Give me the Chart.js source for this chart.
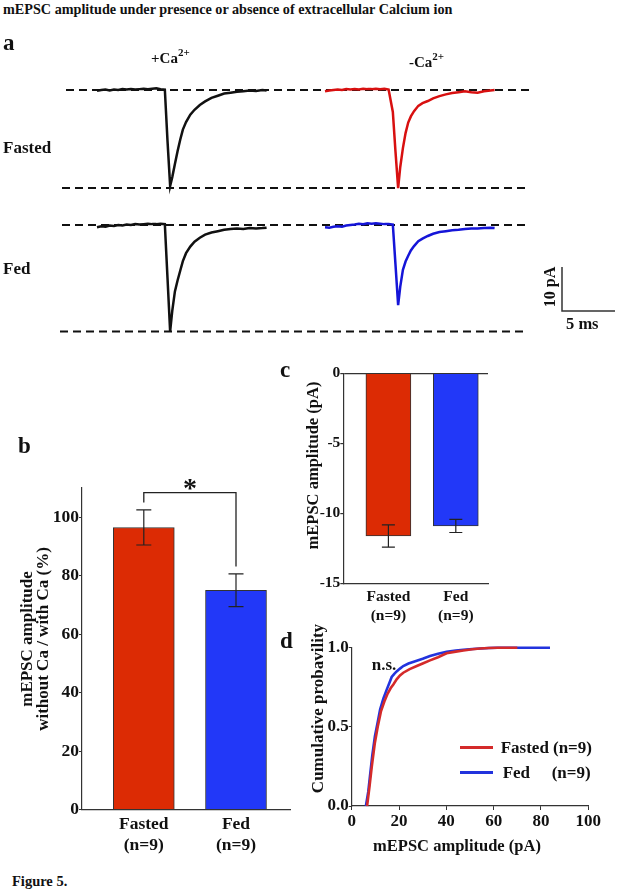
<!DOCTYPE html>
<html>
<head>
<meta charset="utf-8">
<script src="https://cdn.jsdelivr.net/npm/chart.js@4.4.0/dist/chart.umd.min.js"></script>
<style>
  body { margin: 0; background: #fff; }
  #fig { position: relative; width: 617px; height: 892px; overflow: hidden;
         font-family: "Liberation Serif", "Times New Roman", serif; font-weight: bold; color: #111; }
  #fig canvas { position: absolute; }
  .t { position: absolute; white-space: nowrap; line-height: 1; }
  .rot { position: absolute; white-space: nowrap; text-align: center; transform: rotate(-90deg); }
  .sup { position: relative; top: -7px; font-size: 11px; }
  .leg { position: absolute; width: 33px; height: 3px; }
</style>
</head>
<body>
<div id="fig">
  <canvas id="tracos" width="617" height="300" style="left:0;top:50px"></canvas>
  <canvas id="razao" width="300" height="392" style="left:0;top:470px"></canvas>
  <canvas id="amplitude" width="215" height="275" style="left:280px;top:355px"></canvas>
  <canvas id="cumulativa" width="337" height="232" style="left:280px;top:632px"></canvas>

  <div class="t" style="left:3px;top:2px;font-size:14.2px">mEPSC amplitude under presence or absence of extracellular Calcium ion</div>
  <div class="t" style="left:3px;top:31px;font-size:23px">a</div>
  <div class="t" style="left:151px;top:50.5px;font-size:15px">+Ca<span class="sup">2+</span></div>
  <div class="t" style="left:409px;top:55px;font-size:15px">-Ca<span class="sup">2+</span></div>
  <div class="t" style="left:3px;top:138.5px;font-size:17px">Fasted</div>
  <div class="t" style="left:3px;top:259.5px;font-size:17px">Fed</div>
  <div class="rot" style="left:520px;top:279px;width:60px;height:16px;line-height:16px;font-size:16px">10 pA</div>
  <div class="t" style="left:566px;top:316px;font-size:16.5px">5 ms</div>

  <div class="t" style="left:18px;top:434px;font-size:23px">b</div>
  <div class="rot" style="left:-75px;top:623px;width:220px;height:32px;line-height:16px;font-size:17px">mEPSC amplitude<br>without Ca / with Ca (%)</div>

  <div class="t" style="left:280px;top:357.5px;font-size:23px">c</div>
  <div class="rot" style="left:211.7px;top:456.5px;width:200px;height:17px;line-height:17px;font-size:16.5px">mEPSC amplitude (pA)</div>

  <div class="t" style="left:280px;top:629px;font-size:23px">d</div>
  <div class="t" style="left:371.7px;top:655.8px;font-size:17px">n.s.</div>
  <div class="rot" style="left:206.7px;top:699.5px;width:220px;height:17px;line-height:17px;font-size:17px">Cumulative probavility</div>
  <div class="t" style="left:357px;top:838px;width:200px;text-align:center;font-size:16.5px">mEPSC amplitude (pA)</div>
  <div class="leg" style="left:460px;top:745.5px;background:#d42a2a"></div>
  <div class="t" style="left:500.7px;top:738.8px;font-size:17px">Fasted</div>
  <div class="t" style="left:553px;top:738.8px;font-size:17px">(n=9)</div>
  <div class="leg" style="left:460px;top:770.5px;background:#2233dd"></div>
  <div class="t" style="left:502.7px;top:763.8px;font-size:17px">Fed</div>
  <div class="t" style="left:551.7px;top:763.8px;font-size:17px">(n=9)</div>

  <div class="t" style="left:12px;top:874px;font-size:14.5px">Figure 5.</div>
</div>

<script>
// ---- panel a: mean mEPSC traces (time in ms, current in pA) ----
const traceTime = [0, 0.4, 0.8, 1.2, 1.6, 2.0, 2.4, 2.8, 3.2, 3.6, 4.0, 4.4, 4.8, 5.2, 5.6, 6.0, 6.4,
  6.65, 6.9, 7.1, 7.35, 7.6, 7.85, 8.1, 8.4, 8.8, 9.2, 9.7, 10.2, 10.8, 11.4, 12.0, 12.6, 13.2, 13.8,
  14.4, 15.0, 15.6, 16.0];
const fastedWithCa = [-0.2, 0.0, 0.1, -0.1, 0.1, 0.0, 0.2, 0.1, 0.2, 0.1, 0.2, 0.3, 0.2, 0.3, 0.4, 0.2, 0.1,
  -11.5, -21.8, -19.8, -16.8, -13.9, -11.3, -9.0, -7.3, -5.6, -4.5, -3.4, -2.6, -1.8, -1.3, -0.8, -0.6,
  -0.4, -0.3, -0.1, -0.2, 0.0, -0.1];
const fastedNoCa = [-0.3, -0.1, 0.0, 0.1, 0.0, 0.2, 0.1, 0.2, 0.1, 0.3, 0.2, 0.2, 0.3, 0.2, 0.3, 0.1, -5.0,
  -14.0, -22.3, -17.5, -13.2, -9.8, -7.4, -6.0, -4.8, -3.6, -3.0, -2.5, -1.9, -1.4, -1.0, -0.7, -0.5,
  -0.3, -0.5, -0.6, -0.3, -0.1, 0.0];
const fedWithCa = [-0.5, -0.3, -0.4, -0.1, -0.2, 0.0, -0.1, 0.1, 0.0, 0.2, 0.1, 0.2, 0.3, 0.2, 0.2, 0.3, 0.2,
  -12.0, -24.2, -19.5, -15.1, -12.6, -10.4, -8.2, -6.4, -4.9, -3.8, -2.9, -2.2, -1.7, -1.4, -1.1, -0.9,
  -0.8, -0.9, -0.7, -0.8, -0.7, -0.6];
const fedNoCa = [-0.5, -0.6, -0.4, -0.3, -0.4, -0.1, 0.0, 0.1, 0.3, 0.2, 0.4, 0.3, 0.4, 0.3, 0.2, 0.2, 0.1,
  -9.0, -18.2, -14.0, -10.2, -8.3, -7.0, -5.8, -4.8, -3.7, -3.1, -2.5, -2.0, -1.6, -1.4, -1.2, -1.1,
  -0.9, -0.8, -0.8, -0.7, -0.6, -0.7];
const scaleBarPa = 10;
const scaleBarMs = 5;

// ---- panels b and c: group means ----
const groupNames = ['Fasted', 'Fed'];
const groupN = ['(n=9)', '(n=9)'];
const ratioMean = [96.5, 75.0];   // % without Ca / with Ca
const ratioSem = [6.0, 5.6];
const ratioTicks = [0, 20, 40, 60, 80, 100];
const ampMean = [-11.62, -10.9];  // pA
const ampSem = [0.8, 0.47];
const ampTicks = [0, -5, -10, -15];

// ---- panel d: cumulative distributions ----
const fastedAmp = [6.5, 7.5, 8.5, 9.8, 11, 12.4, 13.8, 15.2, 16.5, 17.6, 19, 20.4, 21.8, 24.5, 27.5, 30,
  33.1, 36.5, 40.1, 44, 47.2, 51, 54.3, 58, 62, 70];
const fastedCum = [0, 0.12, 0.25, 0.4, 0.5, 0.6, 0.66, 0.71, 0.745, 0.768, 0.8, 0.825, 0.842, 0.865, 0.884,
  0.9, 0.92, 0.94, 0.965, 0.975, 0.982, 0.99, 0.995, 0.998, 1.0, 1.0];
const fedAmp = [6.0, 7.0, 7.7, 8.7, 9.8, 11, 12, 13.4, 14.8, 16, 16.9, 18, 19, 20.4, 21.8, 24, 27.5, 30,
  33.1, 36.5, 40.1, 44, 47.2, 51, 54.3, 58, 61.3, 70, 83.8];
const fedCum = [0, 0.09, 0.185, 0.32, 0.44, 0.53, 0.61, 0.68, 0.735, 0.78, 0.815, 0.835, 0.85, 0.868, 0.884,
  0.9, 0.918, 0.93, 0.947, 0.962, 0.975, 0.982, 0.987, 0.992, 0.995, 0.998, 1.0, 1.0, 1.0];
const cumTicksX = [0, 20, 40, 60, 80, 100];

const RED = '#dc2b04';
const BLUE = '#2238f8';
const RED_LINE = '#d42a2a';
const BLUE_LINE = '#2233dd';

Chart.defaults.font.family = '"Liberation Serif", "Times New Roman", serif';
Chart.defaults.font.weight = 'bold';
Chart.defaults.color = '#111';
Chart.defaults.animation = false;

const pontos = (xs, ys) => xs.map((x, i) => ({ x: x, y: ys[i] }));

// ---------------- panel a ----------------
const PX_MS = 10.6, PX_PA = 4.4;       // drawing scale of the traces
const tracoLinha = (valores, cor, xId, yId) => ({
  data: pontos(traceTime, valores), borderColor: cor, borderWidth: 2.5,
  pointRadius: 0, tension: 0, xAxisID: xId, yAxisID: yId,
});
const pico1 = Math.min(...fastedWithCa, ...fastedNoCa);
const pico2 = Math.min(...fedWithCa, ...fedNoCa);

const guias = {
  id: 'guias',
  beforeDatasetsDraw(chart) {
    const { ctx, scales } = chart;
    const linhas = [
      { y: scales.y1.getPixelForValue(0), de: 66, ate: 533 },
      { y: scales.y1.getPixelForValue(pico1), de: 62, ate: 530 },
      { y: scales.y2.getPixelForValue(0), de: 62, ate: 530 },
      { y: scales.y2.getPixelForValue(pico2), de: 60, ate: 527 },
    ];
    ctx.save();
    ctx.strokeStyle = '#111';
    ctx.lineWidth = 2;
    ctx.setLineDash([8, 5]);
    linhas.forEach((l) => {
      ctx.beginPath();
      ctx.moveTo(l.de, l.y);
      ctx.lineTo(l.ate, l.y);
      ctx.stroke();
    });
    // scale bar
    const hY = scales.y2.getPixelForValue(0) - scales.y2.getPixelForValue(scaleBarPa);
    const wX = scales.x2.getPixelForValue(scaleBarMs) - scales.x2.getPixelForValue(0);
    const cx = 562, cy = 261;
    ctx.setLineDash([]);
    ctx.strokeStyle = '#333';
    ctx.lineWidth = 1.5;
    ctx.beginPath();
    ctx.moveTo(cx, cy - hY);
    ctx.lineTo(cx, cy);
    ctx.lineTo(cx + wX, cy);
    ctx.stroke();
    ctx.restore();
  },
};

new Chart(document.getElementById('tracos'), {
  type: 'line',
  data: {
    datasets: [
      tracoLinha(fastedWithCa, '#111', 'x1', 'y1'),
      tracoLinha(fastedNoCa, '#d81010', 'x2', 'y1'),
      tracoLinha(fedWithCa, '#111', 'x1', 'y2'),
      tracoLinha(fedNoCa, '#1515d8', 'x2', 'y2'),
    ],
  },
  options: {
    responsive: false,
    devicePixelRatio: 1,
    layout: { padding: 0 },
    plugins: { legend: { display: false }, tooltip: { enabled: false } },
    scales: {
      x1: { type: 'linear', display: false, min: -97 / PX_MS, max: (617 - 97) / PX_MS },
      x2: { type: 'linear', display: false, min: -325 / PX_MS, max: (617 - 325) / PX_MS },
      y1: { type: 'linear', display: false, min: -260 / PX_PA, max: 40 / PX_PA },
      y2: { type: 'linear', display: false, min: -125 / PX_PA, max: 175 / PX_PA },
    },
  },
  plugins: [guias],
});

// ---------------- error bars (b and c) ----------------
const barrasErro = {
  id: 'barrasErro',
  afterDatasetsDraw(chart, args, opts) {
    const { ctx, scales: { y } } = chart;
    const meta = chart.getDatasetMeta(0);
    ctx.save();
    ctx.strokeStyle = '#222';
    ctx.lineWidth = 1.2;
    meta.data.forEach((bar, i) => {
      const m = opts.medias[i], e = opts.erros[i];
      const yTop = y.getPixelForValue(m + e), yBot = y.getPixelForValue(m - e);
      const h = opts.cap / 2;
      ctx.beginPath();
      ctx.moveTo(bar.x, yTop); ctx.lineTo(bar.x, yBot);
      ctx.moveTo(bar.x - h, yTop); ctx.lineTo(bar.x + h, yTop);
      ctx.moveTo(bar.x - h, yBot); ctx.lineTo(bar.x + h, yBot);
      ctx.stroke();
    });
    ctx.restore();
  },
};

const eixoY = (ticks, size, width, min, max) => ({
  type: 'linear', min: min, max: max,
  afterBuildTicks: (s) => { s.ticks = ticks.map((v) => ({ value: v })); },
  afterFit: (s) => { s.width = width; },
  ticks: { font: { size: size }, padding: 0, color: '#111' },
  grid: { drawOnChartArea: false, drawTicks: true, tickLength: 3, tickColor: '#333' },
  border: { display: true, color: '#333', width: 1.2 },
});

const eixoGrupos = (size, lh, height, min, max, pad) => ({
  type: 'linear', min: min, max: max, offset: false,
  afterBuildTicks: (s) => { s.ticks = groupNames.map((g, i) => ({ value: i + 1 })); },
  afterFit: (s) => { s.height = height; },
  ticks: {
    font: { size: size, lineHeight: lh }, padding: pad, color: '#111',
    callback: (v) => [groupNames[v - 1], groupN[v - 1]],
  },
  grid: { display: false },
  border: { display: true, color: '#333', width: 1.2 },
});

// ---------------- panel b ----------------
const colchete = {
  id: 'colchete',
  afterDatasetsDraw(chart) {
    const { ctx, scales: { y } } = chart;
    const meta = chart.getDatasetMeta(0);
    const x1 = meta.data[0].x, x2 = meta.data[1].x;
    const topo = y.getPixelForValue(108.4);
    const gap = 2.5;
    ctx.save();
    ctx.strokeStyle = '#222';
    ctx.lineWidth = 1.3;
    ctx.beginPath();
    ctx.moveTo(x1, y.getPixelForValue(ratioMean[0] + ratioSem[0] + gap));
    ctx.lineTo(x1, topo);
    ctx.lineTo(x2, topo);
    ctx.lineTo(x2, y.getPixelForValue(ratioMean[1] + ratioSem[1] + gap));
    ctx.stroke();
    ctx.fillStyle = '#111';
    ctx.font = 'bold 28px "Liberation Serif", serif';
    ctx.textAlign = 'center';
    ctx.textBaseline = 'alphabetic';
    ctx.fillText('*', (x1 + x2) / 2, topo + 4);
    ctx.restore();
  },
};

new Chart(document.getElementById('razao'), {
  type: 'bar',
  data: {
    datasets: [{
      data: pontos([1, 2], ratioMean),
      backgroundColor: [RED, BLUE], borderColor: '#333', borderWidth: 1,
      barThickness: 61,
    }],
  },
  options: {
    responsive: false,
    devicePixelRatio: 1,
    layout: { padding: { top: 18, right: 10, left: 0, bottom: 0 } },
    plugins: {
      legend: { display: false }, tooltip: { enabled: false },
      barrasErro: { medias: ratioMean, erros: ratioSem, cap: 15 },
    },
    scales: {
      x: eixoGrupos(17.5, 1.22, 52.5, 1 - (143.8 - 82) / 92.2, 2 + (290 - 236) / 92.2, -4),
      y: eixoY(ratioTicks, 17.5, 82, 0, 110),
    },
  },
  plugins: [barrasErro, colchete],
});

// ---------------- panel c ----------------
const eixoAmp = eixoY(ampTicks, 15.5, 63.3, -15, 0);
eixoAmp.grid = {
  drawOnChartArea: true, drawTicks: true, tickLength: 3, tickColor: '#333', lineWidth: 1.2,
  color: (c) => (c.tick && c.tick.value === 0 ? '#333' : 'rgba(0,0,0,0)'),
};

new Chart(document.getElementById('amplitude'), {
  type: 'bar',
  data: {
    datasets: [{
      data: pontos([1, 2], ampMean),
      backgroundColor: [RED, BLUE], borderColor: '#333', borderWidth: 1,
      barThickness: 45,
    }],
  },
  options: {
    responsive: false,
    devicePixelRatio: 1,
    layout: { padding: { top: 18.3, right: 7, left: 0, bottom: 0 } },
    plugins: {
      legend: { display: false }, tooltip: { enabled: false },
      barrasErro: { medias: ampMean, erros: ampSem, cap: 13 },
    },
    scales: {
      x: eixoGrupos(15.5, 1.24, 46.7, 1 - (388.4 - 343.3) / 67.4, 2 + (488 - 455.8) / 67.4, -4),
      y: eixoAmp,
    },
  },
  plugins: [barrasErro],
});

// ---------------- panel d ----------------
const curva = (xs, ys, cor, nome) => ({
  label: nome, data: pontos(xs, ys), borderColor: cor, borderWidth: 2.6,
  pointRadius: 0, tension: 0, clip: false,
});

new Chart(document.getElementById('cumulativa'), {
  type: 'line',
  data: {
    datasets: [
      curva(fastedAmp, fastedCum, RED_LINE, 'Fasted (n=9)'),
      curva(fedAmp, fedCum, BLUE_LINE, 'Fed (n=9)'),
    ],
  },
  options: {
    responsive: false,
    devicePixelRatio: 1,
    layout: { padding: { top: 15.7, right: 28.7, left: 0, bottom: 0 } },
    plugins: { legend: { display: false }, tooltip: { enabled: false } },
    scales: {
      x: {
        type: 'linear', min: 0, max: 100,
        afterBuildTicks: (s) => { s.ticks = cumTicksX.map((v) => ({ value: v })); },
        afterFit: (s) => { s.height = 58; },
        ticks: { font: { size: 17 }, padding: 1, color: '#111' },
        grid: { drawOnChartArea: false, drawTicks: true, tickLength: 4, tickColor: '#333' },
        border: { display: true, color: '#333', width: 1.2 },
      },
      y: {
        type: 'linear', min: 0, max: 1,
        afterBuildTicks: (s) => { s.ticks = [0, 0.5, 1].map((v) => ({ value: v })); },
        afterFit: (s) => { s.width = 71.7; },
        ticks: { font: { size: 17 }, padding: 0, color: '#111', callback: (v) => v.toFixed(1) },
        grid: { drawOnChartArea: false, drawTicks: true, tickLength: 3, tickColor: '#333' },
        border: { display: true, color: '#333', width: 1.2 },
      },
    },
  },
});
</script>
</body>
</html>
